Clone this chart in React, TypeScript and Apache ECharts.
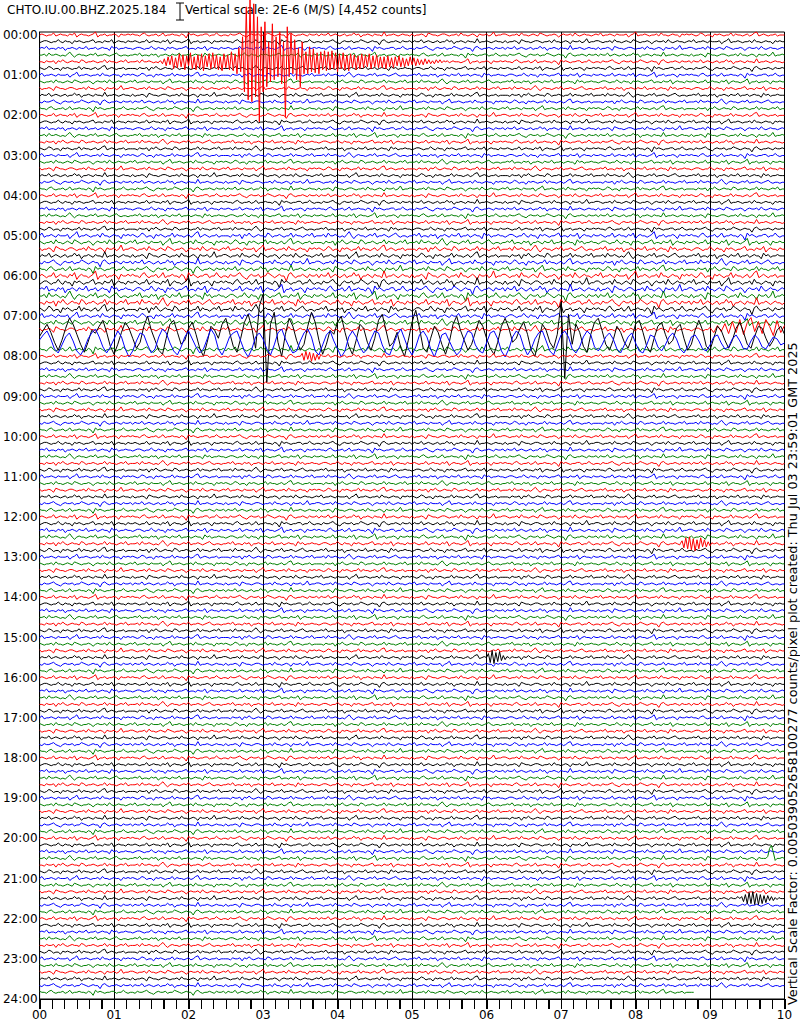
import React, { useEffect, useRef } from "react";
import * as echarts from "echarts";

// ---------- labels ----------
const TITLE = "CHTO.IU.00.BHZ.2025.184";
const SCALE_TEXT = "Vertical scale: 2E-6 (M/S) [4,452 counts]";
const SIDE_TEXT =
  "Vertical Scale Factor: 0.005039052658100277 counts/pixel plot created: Thu Jul 03 23:59:01 GMT 2025";
const HOUR_LABELS = [
  "00:00", "01:00", "02:00", "03:00", "04:00", "05:00", "06:00", "07:00", "08:00",
  "09:00", "10:00", "11:00", "12:00", "13:00", "14:00", "15:00", "16:00", "17:00",
  "18:00", "19:00", "20:00", "21:00", "22:00", "23:00", "24:00",
];
const MINUTE_LABELS = ["00", "01", "02", "03", "04", "05", "06", "07", "08", "09", "10"];
const TICKS_PER_MINUTE = 6; // a tick every 10 s along the time axis
const TRACE_COLORS = ["#ff0000", "#000000", "#0000ff", "#008000"];
const TRACES_PER_HOUR = 6;
const TRACE_COUNT = 144;
const LAST_TRACE_END = 8.8; // minutes of data in the final line

// relative noise level per hour
const HOUR_GAIN = [1, 1, 1, 1, 1, 1.4, 1.7, 1.4, 1, 1, 1, 1, 1.1, 1, 1, 1, 1, 1, 1, 1, 1, 1, 1, 1];

// ---------- background noise snippets (deflection, px; 40 samples per 1.25 min) ----------
const NOISE_A = [0,1,0,-1,0,0,2,-1,0,1,0,0,-1,1,0,2,-2,0,1,0,0,-1,0,1,3,-2,0,0,1,-1,0,0,1,0,-2,1,0,0,1,0];
const NOISE_B = [1,0,-1,0,2,1,-1,0,0,-2,1,0,1,0,-1,0,0,2,-1,1,0,0,-1,0,1,-1,0,2,3,-1,0,1,0,-1,0,0,1,-1,0,0];
const NOISE_C = [0,-1,1,0,0,1,2,0,-1,-2,0,1,0,0,1,-1,0,0,2,1,0,-1,0,1,0,0,-3,1,2,0,-1,0,0,1,0,-1,1,0,0,1];
const NOISE_D = [0,0,1,-1,2,0,0,1,0,-1,0,-1,1,3,0,-2,0,1,0,0,-1,0,1,0,2,-1,0,0,1,0,-1,0,1,2,0,-1,0,0,-1,0];
const NOISE_E = [1,-1,0,0,1,0,-2,2,1,0,0,-1,0,1,1,0,-1,0,0,1,-1,2,0,0,-1,0,1,0,-2,1,0,0,1,-1,0,3,-1,0,0,1];
const NOISE_F = [-1,0,1,1,0,-1,0,0,2,0,-1,1,0,0,-2,1,0,1,0,-1,0,0,1,2,-1,0,0,-1,1,0,0,2,-2,0,1,0,0,-1,1,0];
const NOISE_G = [0,2,-1,0,0,1,0,-1,1,0,0,0,1,-2,0,1,3,-1,0,0,1,0,-1,0,0,1,-1,2,0,0,-1,0,1,0,0,-2,1,0,1,0];
const NOISE_H = [1,0,0,-1,1,2,0,-1,0,0,1,-1,0,2,-1,0,0,1,0,0,-1,1,0,-3,2,0,1,0,-1,0,0,1,1,-1,0,0,2,0,-1,0];
const NOISE_I = [0,0,-1,1,0,0,1,-2,1,0,2,0,-1,0,1,0,0,-1,2,1,-1,0,0,1,0,-1,0,0,2,-1,1,0,0,-1,0,1,0,2,-1,0];
const NOISE_J = [-1,1,0,0,2,-1,0,1,0,-1,0,1,-1,0,0,2,0,1,-2,0,0,1,0,-1,1,0,0,-1,3,-1,0,0,1,0,-1,0,1,0,0,-1];
const NOISE_K = [0,1,0,2,-1,0,0,-1,1,0,1,-2,0,0,1,0,-1,1,0,0,2,-1,0,0,1,-1,0,1,0,0,-2,2,0,1,-1,0,0,1,0,0];
const NOISE_L = [1,0,-1,0,0,1,-1,2,0,0,-1,0,1,0,-1,2,1,0,-1,0,0,1,0,-2,0,1,0,0,1,-1,2,0,-1,0,1,0,0,-1,0,1];
const NOISE = [NOISE_A, NOISE_B, NOISE_C, NOISE_D, NOISE_E, NOISE_F, NOISE_G, NOISE_H, NOISE_I, NOISE_J, NOISE_K, NOISE_L];
const SNIPPET_MINUTES = 1.25;

// ---------- events (deflection, px, positive = up) ----------
// 00:40 line: large local earthquake
const QUAKE = [
  0,1,-2,3,-4,5,-3,6,-7,4,
  -6,8,-5,7,-8,6,-4,9,-7,5,
  -8,7,-6,8,-9,6,-5,8,-7,9,
  -6,7,-8,5,-9,8,-6,7,-8,10,
  -9,8,-12,14,-10,25,-30,55,-38,62,
  -40,58,-35,45,-60,35,-30,40,-25,20,
  -20,38,-18,25,-15,30,-22,20,-55,35,
  -15,28,-12,22,-18,14,-25,20,-12,10,
  -12,15,-10,13,-11,9,-12,10,-8,11,
  -9,10,-8,11,-7,9,-10,8,-7,9,
  -8,7,-9,8,-6,7,-8,6,-7,8,
  -6,7,-5,8,-7,6,-5,7,-6,5,
  -6,5,-7,6,-5,4,-6,5,-4,6,
  -5,4,-5,3,-4,5,-3,4,-4,3,
  -3,2,-3,3,-2,2,-2,1,-2,2,
  -1,2,-1,1,0,1,-1,0,1,0,0,
];
// 07:30 line (black): surface waves
const SURFACE_BLACK = [
  0,6,12,4,-6,-14,-4,8,18,12,
  2,-8,-16,-6,6,3,10,16,4,-10,
  -18,-8,4,14,8,-2,-12,-6,10,20,
  6,-4,-14,-18,-2,12,16,4,-8,-4,
  8,14,2,-12,-20,-6,10,6,-2,12,
  18,4,-10,-16,-2,14,22,8,-12,30,
  42,-46,12,24,-6,-20,2,18,10,-4,
  -14,-8,10,24,14,-4,-18,-8,6,2,
  14,20,4,-10,-18,-4,12,8,-6,-14,
  -2,16,22,6,-10,-6,4,-12,-20,-4,
  14,26,8,-12,-16,-2,10,4,-8,-18,
  -6,12,20,6,-4,-14,-8,4,16,10,
  -2,-12,-18,-6,10,18,8,-6,-2,8,
  14,2,-14,-20,-4,12,6,-6,-12,2,
  34,-42,22,-8,12,4,-10,-16,2,14,
  18,6,-8,-14,-4,10,4,-6,-12,-2,
  12,16,4,-10,-16,-2,10,14,2,-8,
  -4,8,12,-2,-14,-8,6,16,6,-10,
  -14,-2,10,6,-4,-12,-4,8,14,4,
  -8,-12,0,10,8,-2,-10,-4,6,10,
  2,
];
// 07:40 line (blue): surface waves
const SURFACE_BLUE = [
  3,8,12,4,-6,-10,-2,6,10,2,
  -8,-12,-6,4,10,14,6,-4,-10,-4,
  4,12,6,-6,-14,-8,2,10,8,-2,
  -10,-6,6,14,10,0,-8,-12,-4,6,
  12,4,-4,-10,-6,4,14,8,-6,-12,
  -4,6,10,12,2,-8,-14,-6,6,10,
  4,-6,-12,-2,10,14,4,-4,-10,-8,
  2,10,14,6,-8,-12,-2,8,12,2,
  -6,-14,-8,6,12,6,-4,-10,-6,4,
  12,10,-2,-10,-12,-2,8,14,4,-6,
  -12,-4,8,12,6,-6,-14,-4,8,10,
  2,-6,-12,-8,4,12,10,-2,-8,-10,
  0,10,12,4,-8,-14,-6,6,12,8,
  -4,-12,-6,4,10,12,2,-8,-12,-2,
  8,12,6,-6,-10,-4,6,12,8,-4,
  -8,-2,6,10,4,-6,-10,-2,6,10,
  0,-8,-10,-2,8,6,-4,-8,-2,6,
  10,4,-6,-10,-4,6,8,2,-6,-8,
  -2,6,8,0,-6,-4,4,8,2,-6,
  -6,2,8,4,-4,-6,0,6,4,-2,
  0,
];
const SURFACE_RED_TAIL = [2,-3,4,-2,6,-4,8,-3,10,-5,7,12,-2,8,-4,10,3,-6,9,-3,4];
const BURST_0800 = [0,3,-4,5,-3,4,-5,3,-4,2,-3,2,0];
const BURST_1240 = [0,3,-4,6,-5,7,-6,5,-7,4,-5,6,-3,4,-3,2,-2,1,0];
const BURST_1530 = [0,4,-5,7,-6,5,-4,6,-3,2,-2,1,0];
const SPIKE_2050 = [0,2,10,13,6,-2,0];
const BURST_2130 = [0,2,-3,4,-5,6,-5,7,-6,5,-6,4,-5,3,-4,3,-2,2,-2,1,-1,1,0];

const EVENTS = [
  { trace: 4, start: 1.6, step: 0.025, values: QUAKE },
  { trace: 45, start: 0, step: 0.05, values: SURFACE_BLACK },
  { trace: 46, start: 0, step: 0.05, values: SURFACE_BLUE },
  { trace: 44, start: 9.0, step: 0.05, values: SURFACE_RED_TAIL },
  { trace: 48, start: 3.5, step: 0.025, values: BURST_0800 },
  { trace: 76, start: 8.6, step: 0.025, values: BURST_1240 },
  { trace: 93, start: 6.0, step: 0.025, values: BURST_1530 },
  { trace: 123, start: 9.75, step: 0.025, values: SPIKE_2050 },
  { trace: 129, start: 9.4, step: 0.025, values: BURST_2130 },
];

const PX_PER_TRACE = 6.694;

function buildTrace(k: number): number[][] {
  const gain = HOUR_GAIN[Math.floor(k / TRACES_PER_HOUR)];
  const n = NOISE_A.length;
  const step = SNIPPET_MINUTES / n;
  const segments = Math.round(10 / SNIPPET_MINUTES);
  let pts: number[][] = [];
  for (let j = 0; j < segments; j++) {
    const snip = NOISE[(k * 5 + j * 7) % NOISE.length];
    for (let i = 0; i < n; i++) pts.push([j * SNIPPET_MINUTES + i * step, snip[i] * gain]);
  }
  pts.push([10, 0]);
  const evs = EVENTS.filter((e) => e.trace === k);
  evs.forEach((e) => {
    const end = e.start + (e.values.length - 1) * e.step;
    pts = pts.filter((p) => p[0] < e.start - 1e-9 || p[0] > end + 1e-9);
    e.values.forEach((v, i) => pts.push([e.start + i * e.step, v]));
  });
  pts.sort((a, b) => a[0] - b[0]);
  if (k === TRACE_COUNT - 1) pts = pts.filter((p) => p[0] <= LAST_TRACE_END);
  return pts.map((p) => [p[0], k - p[1] / PX_PER_TRACE]);
}

export default function App() {
  const ref = useRef<HTMLDivElement>(null);
  useEffect(() => {
    if (!ref.current) return;
    const chart = echarts.init(ref.current, null, { renderer: "svg" });
    const font = "DejaVu Sans";
    const series: any[] = [];
    for (let k = 0; k < TRACE_COUNT; k++) {
      const hasEvent = EVENTS.some((e) => e.trace === k);
      series.push({
        type: "line",
        data: buildTrace(k),
        showSymbol: false,
        symbol: "none",
        silent: true,
        clip: false,
        z: hasEvent ? 4 : 2,
        lineStyle: { color: TRACE_COLORS[k % 4], width: 1 },
      });
    }
    const baseGraphic: any[] = [
      { type: "text", left: 7, top: 4, style: { text: TITLE, fontSize: 12, fontFamily: font, fill: "#000" } },
      { type: "line", shape: { x1: 180, y1: 3, x2: 180, y2: 20 }, style: { stroke: "#000", lineWidth: 1 } },
      { type: "line", shape: { x1: 176, y1: 3, x2: 184, y2: 3 }, style: { stroke: "#000", lineWidth: 1 } },
      { type: "line", shape: { x1: 176, y1: 20, x2: 184, y2: 20 }, style: { stroke: "#000", lineWidth: 1 } },
      { type: "text", left: 185, top: 4, style: { text: SCALE_TEXT, fontSize: 12, fontFamily: font, fill: "#000" } },
      {
        type: "text", x: 792, y: 1005, rotation: Math.PI / 2,
        style: { text: SIDE_TEXT, fontSize: 12.8, fontFamily: font, fill: "#000", align: "left", verticalAlign: "middle" },
      },
    ];
    chart.setOption({
      animation: false,
      backgroundColor: "#ffffff",
      textStyle: { fontFamily: font },
      grid: {
        left: 36, right: 15.5, top: 32, bottom: 25,
        show: true, borderColor: "#000", borderWidth: 1, backgroundColor: "transparent",
      },
      xAxis: [
        {
          type: "value", position: "bottom", min: 0, max: 10, interval: 1,
          axisLine: { show: true, onZero: false, lineStyle: { color: "#000", width: 1 } },
          axisTick: { show: false },
          splitLine: { show: true, lineStyle: { color: "#000", width: 1 } },
          axisLabel: {
            color: "#000", fontSize: 12, fontFamily: font, margin: 10,
            formatter: (v: number) => MINUTE_LABELS[Math.round(v)] ?? "",
          },
        },
        {
          // tick-only axis: one tick every 10 s, drawn outward below the plot
          type: "value", position: "bottom", min: 0, max: 10 * TICKS_PER_MINUTE, interval: 1,
          axisLine: { show: false, onZero: false },
          axisTick: { show: true, inside: false, length: 10, lineStyle: { color: "#000", width: 1 } },
          axisLabel: { show: false },
          splitLine: { show: false },
        },
      ],
      yAxis: {
        type: "value", inverse: true, min: -0.45, max: TRACE_COUNT,
        axisLine: { show: true, onZero: false, lineStyle: { color: "#000", width: 1 } },
        axisTick: { show: false },
        splitLine: { show: false },
        axisLabel: {
          color: "#000", fontSize: 12, fontFamily: font, margin: 2,
          customValues: HOUR_LABELS.map((_, h) => h * TRACES_PER_HOUR),
          formatter: (v: number) => HOUR_LABELS[Math.round(v / TRACES_PER_HOUR)] ?? "",
        },
      },
      graphic: baseGraphic,
      series,
    });
    // tick marks below the time axis, positioned through the axis scale
    const ticks: any[] = [];
    for (let t = 0; t <= 10 * TICKS_PER_MINUTE; t++) {
      const p = chart.convertToPixel({ xAxisIndex: 0, yAxisIndex: 0 }, [t / TICKS_PER_MINUTE, TRACE_COUNT]) as number[];
      if (!p) continue;
      const x = Math.round(p[0]) + 0.5;
      ticks.push({
        type: "line", z: 50,
        shape: { x1: x, y1: p[1], x2: x, y2: p[1] + 10 },
        style: { stroke: "#000", lineWidth: 1 },
      });
    }
    chart.setOption({ graphic: [...baseGraphic, ...ticks] });
    return () => chart.dispose();
  }, []);
  return <div ref={ref} style={{ position: "fixed", left: 0, top: 0, width: 800, height: 1024 }} />;
}
